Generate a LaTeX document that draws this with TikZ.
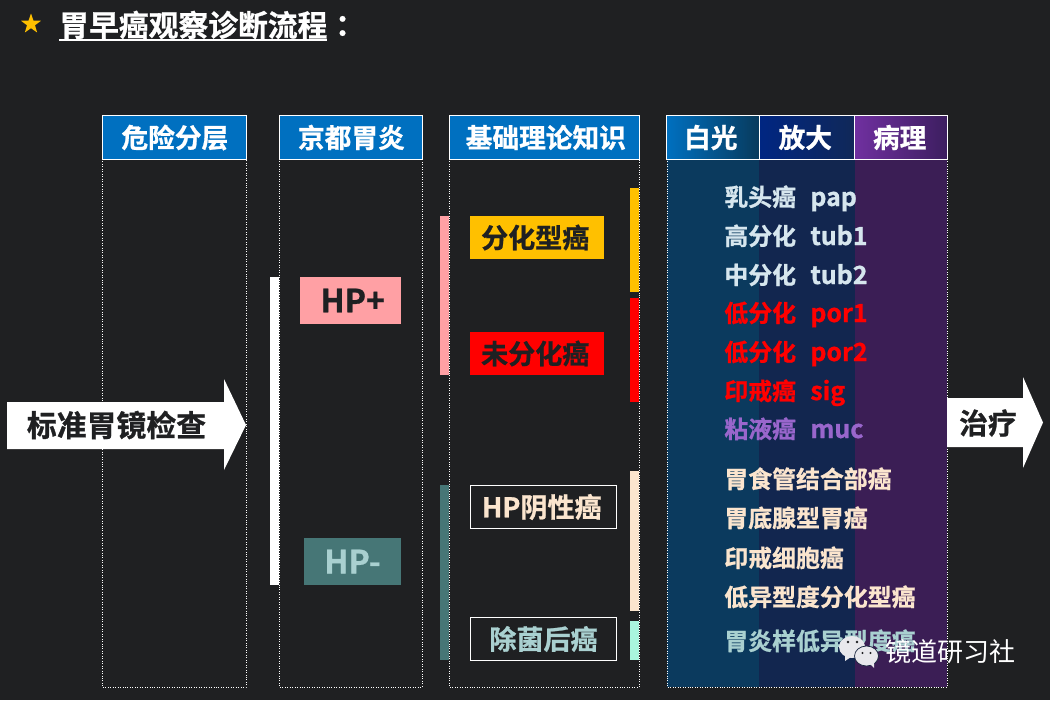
\documentclass[tikz,border=0pt]{standalone}
\usepackage{xcolor}
\usepackage{fontspec}
\setmainfont{Noto Sans CJK SC}[BoldFont={* Bold},BoldFeatures={FakeBold=0.9}]
\newfontfamily\cjkreg{Noto Sans CJK SC}
\usetikzlibrary{shapes.geometric}
\definecolor{pagebg}{HTML}{1F2022}
\definecolor{headblue}{HTML}{0070C0}
\definecolor{hppink}{HTML}{FFA0A4}
\definecolor{hpteal}{HTML}{467676}
\definecolor{hplight}{HTML}{A9D0D0}
\definecolor{cream}{HTML}{FBE5CE}
\definecolor{mint}{HTML}{A9F5DE}
\definecolor{gold}{HTML}{FFC000}
\definecolor{palebl}{HTML}{D6E6EE}
\definecolor{muccol}{HTML}{9966CC}
\definecolor{bandwhite}{HTML}{0B3A5E}
\definecolor{bandzoom}{HTML}{12264F}
\definecolor{bandpath}{HTML}{3B1E55}
\definecolor{bubble}{HTML}{E8E8EC}
\tikzset{
  colbox/.style={draw=white,densely dotted,line width=0.4pt},
  headbox/.style={draw=white,line width=0.5pt,fill=headblue,text=white,font=\bfseries\fontsize{15.2}{15.2}\selectfont,inner sep=0pt,anchor=center},
  tagbox/.style={inner sep=0pt,font=\bfseries\fontsize{15.4}{15.4}\selectfont,anchor=center},
  hpbox/.style={inner sep=0pt,font=\bfseries\fontsize{18.2}{18.2}\selectfont,anchor=center,minimum height=47*0.569pt},
  zhtext/.style={inner sep=0pt,anchor=base west,font=\bfseries\fontsize{13.6}{13.6}\selectfont},
  entext/.style={inner sep=0pt,anchor=base west,font=\bfseries\fontsize{14.2}{14.2}\selectfont},
  arrowtext/.style={inner sep=0pt,text=pagebg,font=\bfseries\fontsize{17}{17}\selectfont}
}
\begin{document}
\begin{tikzpicture}[x=0.02cm,y=-0.02cm]
\fill[pagebg] (0,0) rectangle (1050,700);
\useasboundingbox (0,0) rectangle (1050,700);
% title
\node[star,star points=5,star point ratio=2.5,fill=gold,inner sep=0pt,minimum size=21*0.569pt] (titlestar) at (31,24) {};
\node[inner sep=0pt,anchor=west,text=white,font=\bfseries\fontsize{16.95}{16.95}\selectfont] (titletext) at (59,25) {胃早癌观察诊断流程};
\draw[white,line width=0.6pt] (59,40)--(327,40);
\node[inner sep=0pt,text=white,font=\bfseries\fontsize{16.95}{16.95}\selectfont] (titlecolon) at (350,26) {：};
% dotted columns
\draw[colbox] (102,159) rectangle (246,687);
\draw[colbox] (279,159) rectangle (422,687);
\draw[colbox] (449,159) rectangle (639,687);
% tinted bands of the last column
\fill[bandwhite] (667,159) rectangle (759,687);
\fill[bandzoom] (759,159) rectangle (855,687);
\fill[bandpath] (855,159) rectangle (947,687);
\draw[colbox] (667,159) rectangle (947,687);
% headers
\node[headbox,minimum width=144*0.569pt,minimum height=44*0.569pt] (riskhead) at (174,137.5) {\hspace{1pt}危险分层};
\node[headbox,minimum width=143*0.569pt,minimum height=44*0.569pt] (kyotohead) at (350.5,137.5) {\hspace{1pt}京都胃炎};
\node[headbox,minimum width=190*0.569pt,minimum height=44*0.569pt] (basichead) at (544.5,137.5) {\hspace{1.5pt}基础理论知识};
\node[headbox,left color=headblue,right color={rgb,255:red,8;green,58;blue,92},minimum width=93*0.569pt,minimum height=44*0.569pt] (whitehead) at (713,137.5) {白光\kern2.5pt};
\node[headbox,left color={rgb,255:red,0;green,38;blue,130},right color={rgb,255:red,16;green,40;blue,88},minimum width=95*0.569pt,minimum height=44*0.569pt] (zoomhead) at (807,137.5) {放大\kern2pt};
\node[headbox,left color={rgb,255:red,112;green,48;blue,160},right color={rgb,255:red,60;green,30;blue,95},minimum width=93*0.569pt,minimum height=44*0.569pt] (pathhead) at (901,137.5) {病理\kern1.5pt};
% side bars
\fill[white] (270,277) rectangle (279,585);
\fill[hppink] (440,216) rectangle (449,375);
\fill[hpteal] (440,485) rectangle (449,660);
\fill[gold] (630,188) rectangle (639,292);
\fill[red] (630,298) rectangle (639,402);
\fill[cream] (630,471) rectangle (639,611);
\fill[mint] (630,621) rectangle (639,660);
% HP tags
\node[hpbox,fill=hppink,text=pagebg,minimum width=101*0.569pt] (hppos) at (350.5,300.5) {\hspace{2.5pt}HP+};
\node[hpbox,fill=hpteal,text=hplight,minimum width=97*0.569pt] (hpneg) at (352.5,561.5) {HP-};
% cancer types
\node[tagbox,fill=gold,text=pagebg,minimum width=134*0.569pt,minimum height=43*0.569pt] (difftype) at (537,237.5) {\hspace{-2pt}分化型癌};
\node[tagbox,fill=red,text=pagebg,minimum width=134*0.569pt,minimum height=43*0.569pt] (undiff) at (537,353.5) {\hspace{-2pt}未分化癌};
\node[tagbox,draw=white,line width=0.5pt,text=cream,minimum width=146*0.569pt,minimum height=43*0.569pt] (hpnegca) at (543.5,507) {\hspace{-2pt}HP阴性癌};
\node[tagbox,draw=white,line width=0.5pt,text=hplight,minimum width=146*0.569pt,minimum height=43*0.569pt] (eradca) at (543.5,639) {除菌后癌};
% arrows
\fill[white] (7,402)--(224,402)--(224,379)--(246,425)--(224,470)--(224,449)--(7,449)--cycle;
\node[arrowtext] (stdtext) at (116.5,425) {标准胃镜检查};
\fill[white] (947,398)--(1023,398)--(1023,377)--(1043,422.5)--(1023,468)--(1023,447)--(947,447)--cycle;
\node[arrowtext,font=\bfseries\fontsize{16.4}{16.4}\selectfont] (treattext) at (988,423) {治疗};
% type list
\foreach \nm/\zh/\en/\cc/\yy in {pap/乳头癌/pap/palebl/206,tuba/高分化/tub1/palebl/245,tubb/中分化/tub2/palebl/284,pora/低分化/por1/red/322,porb/低分化/por2/red/361,sig/印戒癌/sig/red/400,muc/粘液癌/muc/muccol/438}{
  \node[zhtext,text=\cc] (\nm zh) at (724,\yy) {\zh};
  \node[entext,text=\cc] (\nm en) at (810,\yy) {\en};
}
\foreach \nm/\zh/\cc/\yy in {egj/胃食管结合部癌/cream/488,fund/胃底腺型胃癌/cream/527,sigc/印戒细胞癌/cream/567,lowg/低异型度分化型癌/cream/606,gast/胃炎样低异型度癌/hplight/650}{
  \node[zhtext,text=\cc] (\nm) at (724,\yy) {\zh};
}
% watermark
\fill[bubble] (852,647) ellipse (13 and 11);
\fill[bubble] (845,655)--(845,661)--(851,657)--cycle;
\filldraw[fill=bubble,draw=pagebg!40!bandzoom,line width=0.4pt] (866.5,656) ellipse (12 and 10);
\fill[bubble] (870,664)--(874,668)--(874,662)--cycle;
\fill[pagebg] (848,642) circle (1.3) (857,642) circle (1.3) (862.5,653) circle (1.2) (870.5,653) circle (1.2);
\node[inner sep=0pt,anchor=west,text=white,font=\cjkreg\fontsize{14.8}{14.8}\selectfont] (wmark) at (885,652) {镜道研习社};
\end{tikzpicture}
\end{document}
